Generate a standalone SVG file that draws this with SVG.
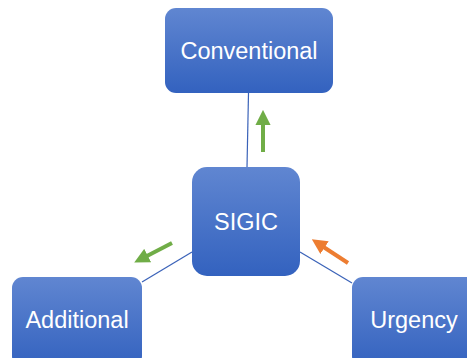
<svg xmlns="http://www.w3.org/2000/svg" width="467" height="358" viewBox="0 0 467 358">
  <style>
    .box { fill: url(#boxFill); }
    .label { fill: #ffffff; font-family: "Liberation Sans", Arial, sans-serif; font-size: 23.5px; text-anchor: middle; dominant-baseline: central; }
    .link { stroke: #3A62B8; stroke-width: 1.2; fill: none; }
    .arrowG { stroke: #70AD47; stroke-width: 4; fill: none; }
    .arrowO { stroke: #ED7D31; stroke-width: 4; fill: none; }
  </style>
  <defs>
    <linearGradient id="boxFill" x1="0" y1="0" x2="0" y2="1">
      <stop offset="0" stop-color="#6086D1"/>
      <stop offset="1" stop-color="#3362BF"/>
    </linearGradient>
    <marker id="headG" viewBox="0 0 10 10" refX="2" refY="5" markerWidth="3.8" markerHeight="3.8" orient="auto" markerUnits="strokeWidth">
      <path d="M0,0 L10,5 L0,10 z" fill="#70AD47"/>
    </marker>
    <marker id="headO" viewBox="0 0 10 10" refX="2" refY="5" markerWidth="3.8" markerHeight="3.8" orient="auto" markerUnits="strokeWidth">
      <path d="M0,0 L10,5 L0,10 z" fill="#ED7D31"/>
    </marker>
  </defs>

  <g id="connectors">
    <line class="link" x1="248.5" y1="93" x2="247" y2="167"/>
    <line class="link" x1="192" y1="252" x2="142" y2="282"/>
    <line class="link" x1="300" y1="252" x2="352" y2="283"/>
    <line class="arrowG" x1="263" y1="152" x2="263" y2="122" marker-end="url(#headG)"/>
    <line class="arrowG" x1="172" y1="243" x2="145" y2="257" marker-end="url(#headG)"/>
    <line class="arrowO" x1="348" y1="263" x2="322" y2="246" marker-end="url(#headO)"/>
  </g>

  <g id="node-conventional">
    <rect class="box" x="165" y="8" width="168" height="85" rx="11"/>
    <text class="label" x="249" y="50.5">Conventional</text>
  </g>
  <g id="node-sigic">
    <rect class="box" x="192" y="167" width="108" height="109" rx="15"/>
    <text class="label" x="246" y="222">SIGIC</text>
  </g>
  <g id="node-additional">
    <rect class="box" x="12" y="277" width="130" height="90" rx="11"/>
    <text class="label" x="77" y="320">Additional</text>
  </g>
  <g id="node-urgency">
    <rect class="box" x="352" y="277" width="125" height="90" rx="11"/>
    <text class="label" x="414" y="320">Urgency</text>
  </g>
</svg>
